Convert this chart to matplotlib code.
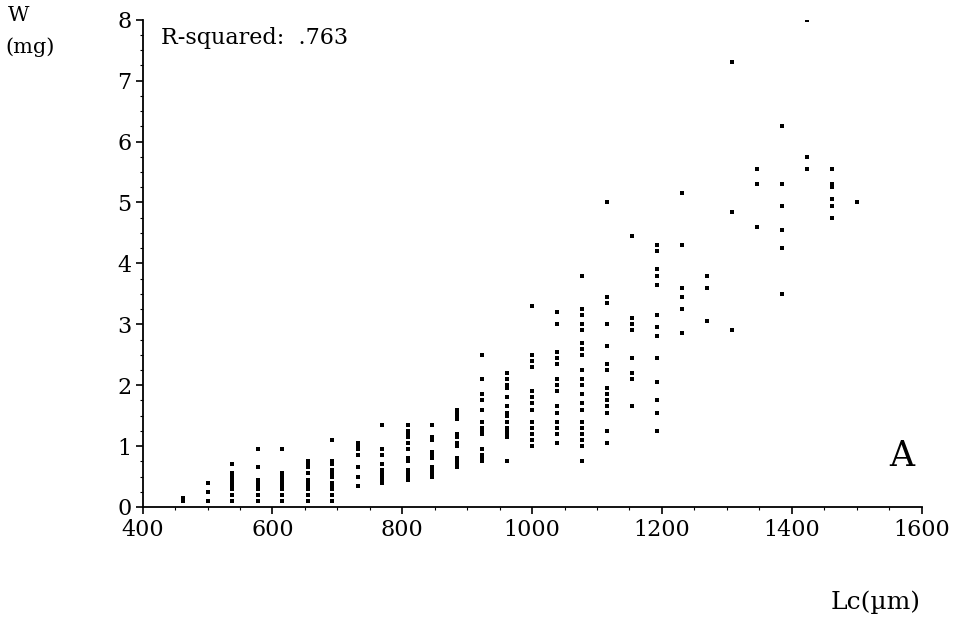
import matplotlib.pyplot as plt
import numpy as np

# Lc classes (micrometre), one per ocular unit of ~38.46 um
lc = [462, 500, 538, 577, 615, 654, 692, 731, 769, 808, 846, 885, 923, 962,
      1000, 1038, 1077, 1115, 1154, 1192, 1231, 1269, 1308, 1346, 1385, 1423,
      1462, 1500]

# dry weight (mg)
w = [
    [0.1, 0.15],
    [0.1, 0.25, 0.4],
    [0.7, 0.55, 0.5, 0.45, 0.4, 0.35, 0.3, 0.2, 0.1],
    [0.95, 0.65, 0.45, 0.4, 0.35, 0.3, 0.2, 0.1],
    [0.95, 0.55, 0.5, 0.45, 0.4, 0.35, 0.3, 0.2, 0.1],
    [0.75, 0.7, 0.65, 0.55, 0.45, 0.4, 0.35, 0.3, 0.2, 0.1],
    [1.1, 0.75, 0.7, 0.6, 0.55, 0.5, 0.4, 0.35, 0.3, 0.2, 0.1],
    [1.05, 1.0, 0.95, 0.85, 0.65, 0.5, 0.35],
    [1.35, 0.95, 0.85, 0.7, 0.6, 0.55, 0.5, 0.45, 0.4],
    [1.35, 1.25, 1.2, 1.15, 1.05, 0.95, 0.8, 0.75, 0.6, 0.55, 0.5, 0.45],
    [1.35, 1.15, 1.1, 0.9, 0.85, 0.8, 0.65, 0.6, 0.55, 0.5],
    [1.6, 1.55, 1.5, 1.45, 1.2, 1.15, 1.05, 1.0, 0.8, 0.75, 0.7, 0.65],
    [2.5, 2.1, 1.85, 1.75, 1.6, 1.4, 1.3, 1.25, 1.2, 0.95, 0.85, 0.8, 0.75],
    [2.2, 2.1, 2.0, 1.95, 1.8, 1.65, 1.55, 1.5, 1.4, 1.3, 1.25, 1.2, 1.15, 0.75],
    [3.3, 2.5, 2.4, 2.3, 1.9, 1.8, 1.7, 1.6, 1.4, 1.3, 1.2, 1.1, 1.0],
    [3.2, 3.0, 2.55, 2.45, 2.35, 2.1, 2.0, 1.9, 1.65, 1.55, 1.4, 1.3, 1.2, 1.05],
    [3.8, 3.25, 3.15, 3.0, 2.9, 2.7, 2.6, 2.5, 2.25, 2.1, 2.0, 1.85, 1.7, 1.6,
     1.4, 1.3, 1.2, 1.1, 1.0, 0.75],
    [5.0, 3.45, 3.35, 3.0, 2.65, 2.35, 2.25, 1.95, 1.85, 1.75, 1.65, 1.55, 1.25, 1.05],
    [4.45, 3.1, 3.0, 2.9, 2.45, 2.2, 2.1, 1.65],
    [4.3, 4.2, 3.9, 3.8, 3.65, 3.15, 2.95, 2.8, 2.45, 2.05, 1.75, 1.55, 1.25],
    [5.15, 4.3, 3.6, 3.45, 3.25, 2.85],
    [3.8, 3.6, 3.05],
    [7.3, 4.85, 2.9],
    [5.55, 5.3, 4.6],
    [6.25, 5.3, 4.95, 4.55, 4.25, 3.5],
    [8.0, 5.75, 5.55],
    [5.55, 5.3, 5.25, 5.05, 4.95, 4.75],
    [5.0],
]
r_squared = ".763"

xs = np.concatenate([[x] * len(v) for x, v in zip(lc, w)])
ys = np.concatenate(w)

font = 'DejaVu Serif'
fig = plt.figure(figsize=(9.64, 6.19), dpi=100)
ax = fig.add_axes([0.148, 0.181, 0.808, 0.787])
ax.plot(xs, ys, 's', color='black', markersize=2.4, markeredgewidth=0)

ax.set_xlim(400, 1600)
ax.set_ylim(0, 8)
ax.set_xticks(np.arange(400, 1601, 200))
ax.set_yticks(np.arange(0, 9, 1))
ax.set_xticks(np.arange(400, 1601, 50), minor=True)
ax.set_yticks(np.arange(0, 8.01, 0.25), minor=True)
ax.tick_params(which='major', length=5, width=1.2, labelsize=16, pad=4)
ax.tick_params(axis='y', which='major', pad=3)
ax.tick_params(which='minor', length=2, width=0.8)
for lab in ax.get_xticklabels() + ax.get_yticklabels():
    lab.set_family(font)

for s in ['top', 'right']:
    ax.spines[s].set_visible(False)
for s in ['left', 'bottom']:
    ax.spines[s].set_linewidth(1.3)

ax.text(0.024, 0.985, 'R-squared:  ' + r_squared, transform=ax.transAxes,
        fontsize=16, family=font, va='top', ha='left')
ax.text(0.99, 0.07, 'A', transform=ax.transAxes, fontsize=25, family=font,
        ha='right', va='bottom')

fig.text(0.008, 0.99, 'W', fontsize=15, family=font, va='top', ha='left')
fig.text(0.006, 0.94, '(mg)', fontsize=15, family=font, va='top', ha='left')
fig.text(0.955, 0.027, 'Lc(\u00b5m)', fontsize=18, family=font, ha='right', va='center')

plt.savefig('out.png', dpi=100)
